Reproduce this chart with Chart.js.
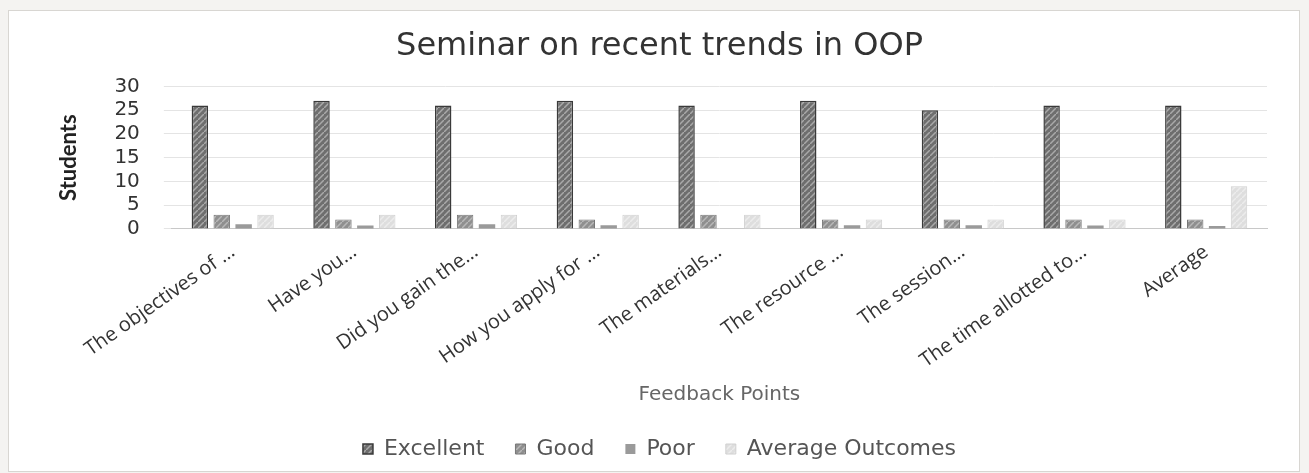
<!DOCTYPE html>
<html>
<head>
<meta charset="utf-8">
<script src="https://cdn.jsdelivr.net/npm/chart.js@4.4.0/dist/chart.umd.min.js"></script>
<style>
  html, body { margin: 0; padding: 0; background: #f4f3f1; }
  .frame { position: absolute; left: 8px; top: 10px; width: 1290px; height: 460px; background: #fff; border: 1px solid #d8d6d2; }
  canvas { position: absolute; left: 0; top: 0; }
</style>
</head>
<body>
<div class="frame"></div>
<canvas id="chart" width="1309" height="473"></canvas>
<script>
  // values
  const feedbackPoints = [
    'The objectives of …',
    'Have you…',
    'Did you gain the…',
    'How you apply for …',
    'The materials…',
    'The resource …',
    'The session…',
    'The time allotted to…',
    'Average',
  ];
  const excellent = [26, 27, 26, 27, 26, 27, 25, 26, 26];
  const good = [3, 2, 3, 2, 3, 2, 2, 2, 2];
  const poor = [1, 0.7, 1, 0.8, 0, 0.8, 0.8, 0.7, 0.6];
  const averageOutcomes = [3, 3, 3, 3, 3, 2, 2, 2, 9];
  const yTicks = [0, 5, 10, 15, 20, 25, 30];

  function hatch(bg, line) {
    const c = document.createElement('canvas');
    c.width = 6;
    c.height = 6;
    const g = c.getContext('2d');
    g.fillStyle = bg;
    g.fillRect(0, 0, 6, 6);
    g.strokeStyle = line;
    g.lineWidth = 1.5;
    g.beginPath();
    g.moveTo(0, 6);
    g.lineTo(6, 0);
    g.stroke();
    return g.createPattern(c, 'repeat');
  }

  const ctx = document.getElementById('chart').getContext('2d');

  new Chart(ctx, {
    type: 'bar',
    data: {
      labels: feedbackPoints,
      datasets: [
        { label: 'Excellent', data: excellent, backgroundColor: hatch('#6e6e6e', '#a9a9a9'), borderColor: '#3a3a3a', borderWidth: 1.5 },
        { label: 'Good', data: good, backgroundColor: hatch('#8f8f8f', '#b8b8b8'), borderColor: '#777', borderWidth: 1 },
        { label: 'Poor', data: poor, backgroundColor: '#9a9a9a', borderColor: '#8a8a8a', borderWidth: 0 },
        { label: 'Average Outcomes', data: averageOutcomes, backgroundColor: hatch('#dedede', '#ececec'), borderColor: '#d0d0d0', borderWidth: 1 },
      ],
    },
    options: {
      responsive: false,
      animation: false,
      categoryPercentage: 0.72,
      barPercentage: 0.75,
      layout: { padding: { left: 52, right: 42, top: 27, bottom: 3 } },
      plugins: {
        title: {
          display: true,
          text: 'Seminar on recent trends in OOP',
          color: '#333',
          font: { family: 'DejaVu Sans', size: 32, weight: 'normal' },
          padding: { top: 0, bottom: 21 },
        },
        legend: {
          position: 'bottom',
          labels: {
            color: '#555',
            boxWidth: 10,
            boxHeight: 10,
            padding: 31,
            font: { family: 'DejaVu Sans', size: 22 },
          },
        },
        tooltip: { enabled: false },
      },
      scales: {
        x: {
          grid: { display: false },
          border: { color: '#c8c8c8' },
          ticks: {
            color: '#333',
            minRotation: 35,
            maxRotation: 35,
            autoSkip: false,
            font: { family: 'Open Sans', size: 20 },
          },
          title: {
            display: true,
            text: 'Feedback Points',
            color: '#666',
            font: { family: 'DejaVu Sans', size: 20 },
            padding: { top: 7, bottom: 0 },
          },
        },
        y: {
          min: 0,
          max: 30,
          afterBuildTicks: (axis) => {
            axis.ticks = yTicks.map((v) => ({ value: v }));
          },
          grid: { color: '#e4e4e4' },
          border: { display: false },
          ticks: {
            color: '#333',
            padding: 24,
            autoSkip: false,
            font: { family: 'DejaVu Sans', size: 20 },
          },
          title: {
            display: true,
            text: 'Students',
            color: '#222',
            font: { family: 'Lato', size: 22, weight: 'bold' },
            padding: { bottom: 8 },
          },
        },
      },
    },
  });
</script>
</body>
</html>
